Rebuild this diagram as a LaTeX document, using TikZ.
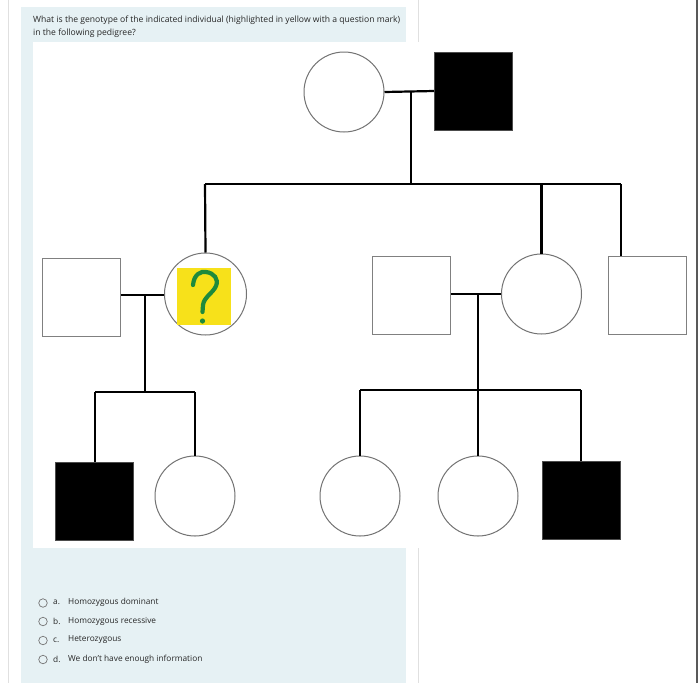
\documentclass[tikz,border=0pt]{standalone}
\usepackage{fontspec}
\setmainfont{Open Sans}
\begin{document}
\begin{tikzpicture}[x=1pt,y=1pt,
  female/.style={circle,draw=black!55,line width=1pt,fill=white,minimum size=80pt,inner sep=0pt},
  male/.style={rectangle,draw=black!50,line width=1pt,fill=white,minimum size=78pt,inner sep=0pt},
  affected/.style={fill=black,draw=black!70},
  link/.style={line width=2.2pt,black},
  qtext/.style={font=\fontsize{8.6}{13}\selectfont,anchor=north west,inner sep=0pt,text=black!85},
  otext/.style={font=\fontsize{8.3}{9}\selectfont,anchor=west,inner sep=0pt,text=black!85},
  radio/.style={circle,draw=black!55,line width=0.7pt,minimum size=8.5pt,inner sep=0pt}]
\definecolor{panel}{HTML}{E6F1F4}
\definecolor{qyellow}{HTML}{F7E11A}
\definecolor{qgreen}{HTML}{1E8A3C}
\useasboundingbox (0,0) rectangle (700,-683);
\fill[white] (0,0) rectangle (700,-683);
% page lines
\draw[black!12,line width=0.6pt] (8,0) -- (8,-683);
\draw[black!12,line width=0.6pt] (418,0) -- (418,-683);
\draw[black!65,line width=1.2pt] (697,0) -- (697,-683);
% panel
\fill[panel] (21,-7) rectangle (406,-683);
\fill[white] (33,-42) rectangle (694,-548);
% question
\node[qtext] (q1) at (33,-15.5) {What is the genotype of the indicated individual (highlighted in yellow with a question mark)};
\node[qtext] (q2) at (33,-28.5) {in the following pedigree?};
% generation I
\node[female] (gm) at (344,-92) {};
\node[male,affected] (gf) at (473.5,-91) {};
% generation II
\node[male] (lsq) at (81.5,-297) {};
\node[female,minimum size=82pt] (qi) at (205.5,-294) {};
\node[male] (msq) at (411.5,-295) {};
\node[female] (mc) at (541.5,-294) {};
\node[male] (rsq) at (647.5,-295) {};
% generation III
\node[male,affected] (b1) at (94.5,-501) {};
\node[female] (c1) at (195,-496) {};
\node[female] (c2) at (360,-496) {};
\node[female] (c3) at (478,-496) {};
\node[male,affected] (b2) at (581,-500) {};
% highlighted individual
\fill[qyellow] (177,-268) rectangle (231,-325);
\draw[qgreen,line width=4.2pt,line cap=round]
  (193,-285) .. controls (194,-274) and (201,-271) .. (206,-272)
  .. controls (214,-273) and (219,-279) .. (216,-286)
  .. controls (213,-293) and (204,-297) .. (203,-305)
  -- (202.5,-312);
\fill[qgreen] (202.5,-321) circle (2.6pt);
% coordinates
\coordinate (j1) at (411,-91);
\coordinate (s1) at (411,-184);
\coordinate (s1l) at (205,-184);
\coordinate (s1m) at (541.5,-184);
\coordinate (s1r) at (621,-184);
\coordinate (j2) at (145,-295);
\coordinate (s2) at (145,-392);
\coordinate (s2l) at (95,-392);
\coordinate (s2r) at (195,-392);
\coordinate (j3) at (478,-294);
\coordinate (s3) at (478,-390);
\coordinate (s3l) at (360,-390);
\coordinate (s3r) at (581,-390);
% connectors
\draw[link] (gm.east) -- (gf.west);
\draw[link] (j1) -- (s1);
\draw[link] (s1l) -- (s1r);
\draw[link] (s1l) -- (qi.north);
\draw[link] (s1m) -- (mc.north);
\draw[link] (s1r) -- (s1r |- rsq.north);
\draw[link] (lsq.east |- j2) -- (qi.west |- j2);
\draw[link] (j2) -- (s2);
\draw[link] (s2l) -- (s2r);
\draw[link] (s2l) -- (b1.north -| s2l);
\draw[link] (s2r) -- (c1.north);
\draw[link] (msq.east |- j3) -- (mc.west);
\draw[link] (j3) -- (s3);
\draw[link] (s3l) -- (s3r);
\draw[link] (s3l) -- (c2.north);
\draw[link] (s3) -- (c3.north);
\draw[link] (s3r) -- (b2.north);
% options
\node[radio] (ra) at (43,-603) {};
\node[radio] (rb) at (43,-621.5) {};
\node[radio] (rc) at (43,-640.5) {};
\node[radio] (rd) at (43,-659.5) {};
\node[otext] (la) at (53,-602.5) {a.};
\node[otext] (lb) at (53,-621) {b.};
\node[otext] (lc) at (53,-640) {c.};
\node[otext] (ld) at (53,-659) {d.};
\node[otext] (ta) at (68,-602.5) {Homozygous dominant};
\node[otext] (tb) at (68,-621) {Homozygous recessive};
\node[otext] (tc) at (68,-640) {Heterozygous};
\node[otext] (td) at (68,-659) {We don't have enough information};
\end{tikzpicture}
\end{document}
